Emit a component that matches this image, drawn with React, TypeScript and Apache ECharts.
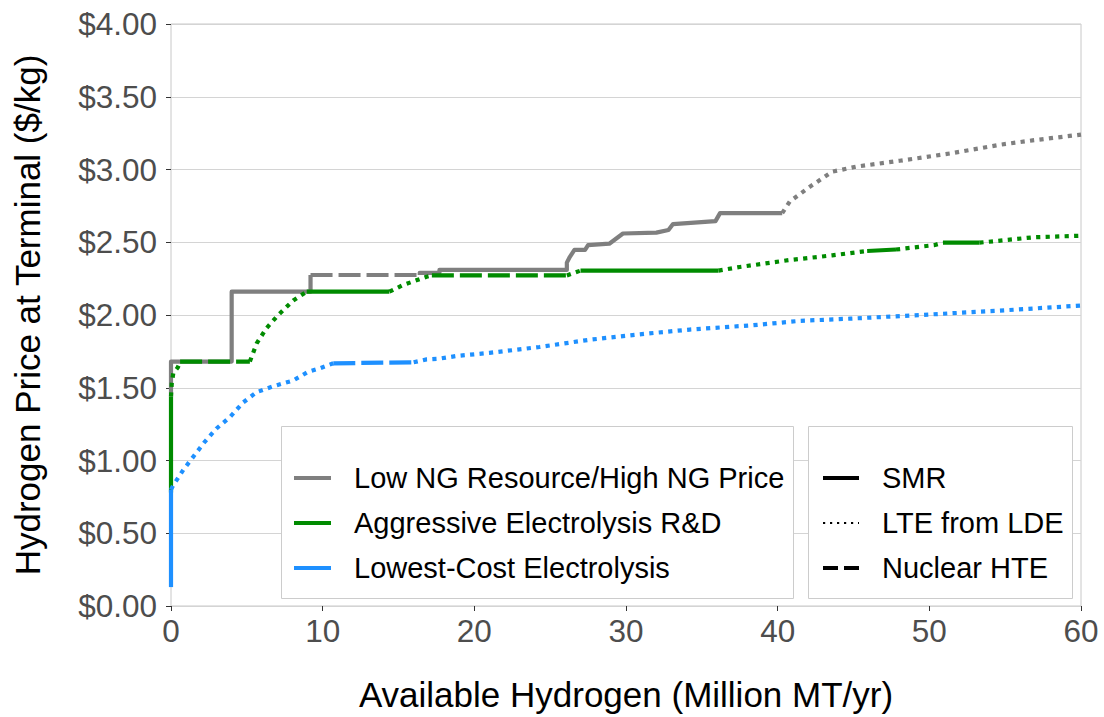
import React, { useEffect, useRef } from "react";
import * as echarts from "echarts";

const SCENARIOS = [
  "Low NG Resource/High NG Price",
  "Aggressive Electrolysis R&D",
  "Lowest-Cost Electrolysis",
];
const TECHS = ["SMR", "LTE from LDE", "Nuclear HTE"];
const X_TICKS = [0, 10, 20, 30, 40, 50, 60];
const Y_TICKS = [0, 0.5, 1, 1.5, 2, 2.5, 3, 3.5, 4];

// Low NG Resource/High NG Price
const lowNgSmr1 = [[0, 1.44], [0, 1.68], [4.0, 1.68], [4.0, 2.16], [9.2, 2.16], [9.2, 2.275]];
const lowNgHte1 = [[9.2, 2.275], [16.4, 2.275]];
const lowNgSmr2 = [
  [16.4, 2.275], [16.4, 2.29], [17.7, 2.29], [17.7, 2.31], [26.1, 2.31], [26.1, 2.36],
  [26.3, 2.4], [26.6, 2.447], [27.3, 2.447], [27.5, 2.48], [28.9, 2.49], [29.8, 2.56],
  [32.0, 2.566], [32.8, 2.584], [33.1, 2.625], [35.9, 2.645], [36.2, 2.7], [40.3, 2.7],
];
const lowNgLte1 = [
  [40.3, 2.7], [40.8, 2.78], [42.1, 2.88], [43.6, 2.985], [45.2, 3.02], [48.05, 3.06],
  [51.35, 3.11], [54.65, 3.17], [56.8, 3.2], [60, 3.24],
];

// Aggressive Electrolysis R&D
const aggSmr1 = [[0, 0.78], [0, 1.44]];
const aggLte1 = [[0, 1.44], [0.05, 1.53], [0.15, 1.6], [0.45, 1.64], [0.6, 1.68]];
const aggHte1 = [[0.6, 1.68], [5.2, 1.68]];
const aggLte2 = [[5.2, 1.68], [5.65, 1.805], [6.3, 1.91], [7.07, 2.0], [8.06, 2.1], [8.95, 2.16]];
const aggSmr2 = [[8.95, 2.16], [14.4, 2.16]];
const aggLte3 = [[14.4, 2.16], [15.3, 2.206], [16.85, 2.263], [17.2, 2.272]];
const aggHte2 = [[17.2, 2.272], [26.1, 2.272]];
const aggLte4 = [[26.1, 2.272], [27.0, 2.305]];
const aggSmr3 = [[27.0, 2.305], [36.1, 2.305]];
const aggLte5 = [[36.1, 2.305], [37.5, 2.33], [40.8, 2.378], [43.6, 2.41], [45.9, 2.44]];
const aggSmr4 = [[45.9, 2.44], [47.8, 2.45]];
const aggLte6 = [[47.8, 2.45], [50.3, 2.48], [50.9, 2.497]];
const aggSmr5 = [[50.9, 2.497], [53.3, 2.497]];
const aggLte7 = [[53.3, 2.497], [56.85, 2.534], [60, 2.545]];

// Lowest-Cost Electrolysis
const lowCostSmr1 = [[0, 0.13], [0, 0.8]];
const lowCostLte1 = [
  [0, 0.8], [0.15, 0.83], [0.81, 0.935], [1.47, 1.026], [2.24, 1.13], [3.0, 1.22],
  [3.9, 1.3], [4.77, 1.4], [5.65, 1.47], [6.74, 1.51], [8.06, 1.55], [9.05, 1.61],
  [9.82, 1.634], [10.7, 1.668],
];
const lowCostHte1 = [[10.7, 1.668], [16.0, 1.675]];
const lowCostLte2 = [
  [16.0, 1.675], [16.85, 1.695], [17.7, 1.7], [18.8, 1.718], [21.0, 1.74], [24.3, 1.78],
  [27.6, 1.83], [30.9, 1.867], [34.2, 1.9], [38.4, 1.93], [41.5, 1.96], [44.8, 1.975],
  [49.4, 2.0], [54.6, 2.03], [60, 2.065],
];

const SEGMENTS = [
  { scenario: 0, tech: 0, data: lowNgSmr1 },
  { scenario: 0, tech: 2, data: lowNgHte1 },
  { scenario: 0, tech: 0, data: lowNgSmr2 },
  { scenario: 0, tech: 1, data: lowNgLte1 },
  { scenario: 1, tech: 0, data: aggSmr1 },
  { scenario: 1, tech: 1, data: aggLte1 },
  { scenario: 1, tech: 2, data: aggHte1 },
  { scenario: 1, tech: 1, data: aggLte2 },
  { scenario: 1, tech: 0, data: aggSmr2 },
  { scenario: 1, tech: 1, data: aggLte3 },
  { scenario: 1, tech: 2, data: aggHte2 },
  { scenario: 1, tech: 1, data: aggLte4 },
  { scenario: 1, tech: 0, data: aggSmr3 },
  { scenario: 1, tech: 1, data: aggLte5 },
  { scenario: 1, tech: 0, data: aggSmr4 },
  { scenario: 1, tech: 1, data: aggLte6 },
  { scenario: 1, tech: 0, data: aggSmr5 },
  { scenario: 1, tech: 1, data: aggLte7 },
  { scenario: 2, tech: 0, data: lowCostSmr1 },
  { scenario: 2, tech: 1, data: lowCostLte1 },
  { scenario: 2, tech: 2, data: lowCostHte1 },
  { scenario: 2, tech: 1, data: lowCostLte2 },
];

const COLORS = ["#7f7f7f", "#008b00", "#1e90ff"];
const DASHES: any[] = ["solid", [4.2, 5.3], [22, 6]];
const FONT = "'Liberation Sans', Arial, Helvetica, sans-serif";

export default function App() {
  const ref = useRef<HTMLDivElement>(null);
  useEffect(() => {
    if (!ref.current) return;
    const chart = echarts.init(ref.current, null, { renderer: "svg" });

    const series = SEGMENTS.map((s, i) => ({
      type: "line",
      name: SCENARIOS[s.scenario] + " / " + TECHS[s.tech] + " " + i,
      data: s.data,
      showSymbol: false,
      symbol: "none",
      silent: true,
      z: 2 + s.scenario,
      lineStyle: {
        color: COLORS[s.scenario],
        width: 4.2,
        type: DASHES[s.tech],
        cap: "butt",
        join: "round",
      },
    }));

    const legendRows = [478, 523, 568];
    const graphic: any[] = [
      {
        type: "rect",
        shape: { x: 281.5, y: 426.5, width: 512, height: 172 },
        style: { fill: "#ffffff", stroke: "#cccccc", lineWidth: 1 },
        z: 100,
      },
      {
        type: "rect",
        shape: { x: 808.5, y: 426.5, width: 264, height: 172 },
        style: { fill: "#ffffff", stroke: "#cccccc", lineWidth: 1 },
        z: 100,
      },
    ];
    SCENARIOS.forEach((name, i) => {
      graphic.push({
        type: "line",
        shape: { x1: 294, y1: legendRows[i], x2: 331, y2: legendRows[i] },
        style: { stroke: COLORS[i], lineWidth: 4 },
        z: 101,
      });
      graphic.push({
        type: "text",
        x: 354,
        y: legendRows[i],
        style: {
          text: name,
          fill: "#000000",
          font: "29px " + FONT,
          textVerticalAlign: "middle",
          verticalAlign: "middle",
        },
        z: 101,
      });
    });
    const techKeyStyles = [
      { lineWidth: 4, lineDash: null },
      { lineWidth: 2.2, lineDash: [2.2, 4.8] },
      { lineWidth: 4, lineDash: [15, 6] },
    ];
    TECHS.forEach((name, i) => {
      graphic.push({
        type: "line",
        shape: { x1: 823, y1: legendRows[i], x2: 859, y2: legendRows[i] },
        style: { stroke: "#000000", lineWidth: techKeyStyles[i].lineWidth, lineDash: techKeyStyles[i].lineDash },
        z: 101,
      });
      graphic.push({
        type: "text",
        x: 882,
        y: legendRows[i],
        style: {
          text: name,
          fill: "#000000",
          font: "29px " + FONT,
          textVerticalAlign: "middle",
          verticalAlign: "middle",
        },
        z: 101,
      });
    });

    chart.setOption({
      animation: false,
      backgroundColor: "#ffffff",
      textStyle: { fontFamily: FONT },
      grid: {
        left: 171,
        right: 23,
        top: 24,
        bottom: 111,
        show: true,
        borderColor: "#c8c8c8",
        borderWidth: 1,
        backgroundColor: "transparent",
      },
      xAxis: {
        type: "value",
        min: X_TICKS[0],
        max: X_TICKS[X_TICKS.length - 1],
        interval: 10,
        axisLine: { show: false },
        axisTick: { show: true, length: 5, lineStyle: { color: "#333333", width: 1 } },
        splitLine: { show: false },
        axisLabel: { fontSize: 31.5, color: "#4d4d4d", margin: 9, fontFamily: FONT },
        name: "Available Hydrogen (Million MT/yr)",
        nameLocation: "middle",
        nameGap: 71,
        nameTextStyle: { fontSize: 35, color: "#000000", fontFamily: FONT },
      },
      yAxis: {
        type: "value",
        min: Y_TICKS[0],
        max: Y_TICKS[Y_TICKS.length - 1],
        interval: 0.5,
        axisLine: { show: false },
        axisTick: { show: true, length: 5, lineStyle: { color: "#333333", width: 1 } },
        splitLine: { show: true, lineStyle: { color: "#d4d4d4", width: 1.2 } },
        axisLabel: {
          fontSize: 31.5,
          color: "#4d4d4d",
          margin: 14,
          fontFamily: FONT,
          formatter: (v: number) => "$" + v.toFixed(2),
        },
        name: "Hydrogen Price at Terminal ($/kg)",
        nameLocation: "middle",
        nameGap: 126,
        nameTextStyle: { fontSize: 35, color: "#000000", fontFamily: FONT },
      },
      series,
      graphic,
    });
    return () => chart.dispose();
  }, []);
  return (
    <div
      ref={ref}
      style={{ position: "absolute", left: 0, top: 0, width: 1104, height: 717 }}
    />
  );
}
